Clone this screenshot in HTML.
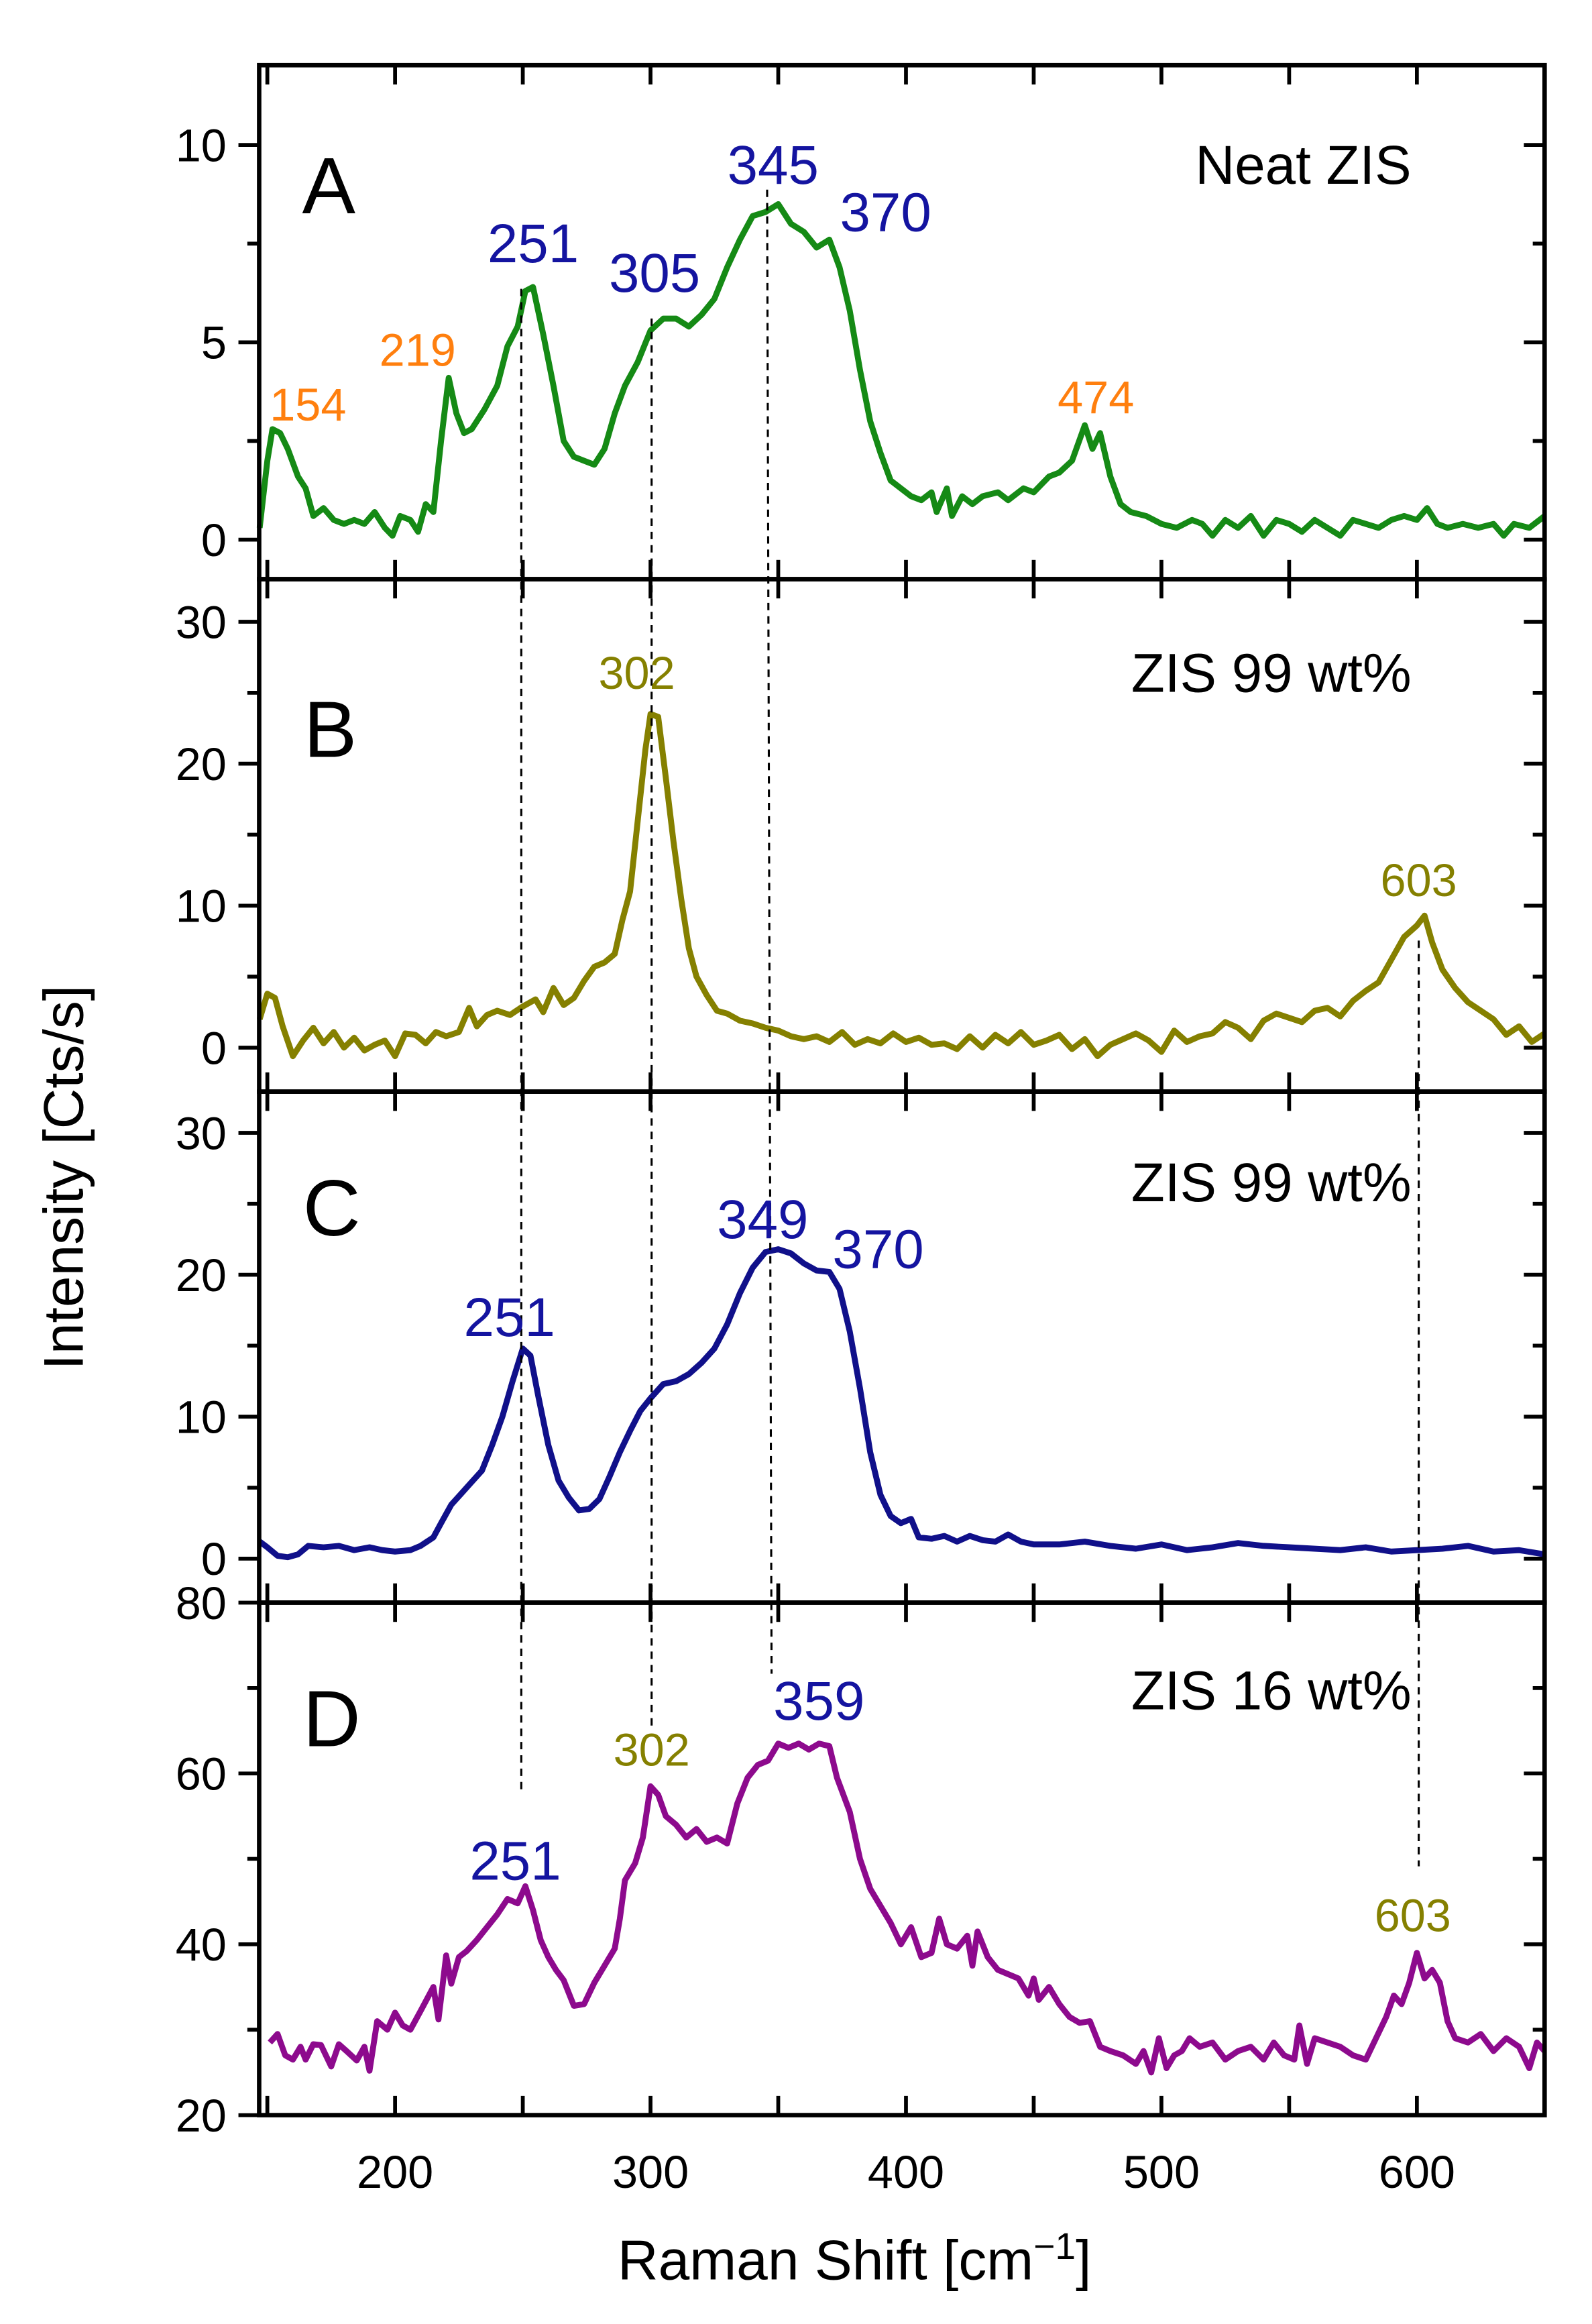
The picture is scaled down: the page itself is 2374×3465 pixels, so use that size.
<!DOCTYPE html>
<html><head><meta charset="utf-8"><style>html,body{margin:0;padding:0;background:#fff}svg{display:block}text{font-family:"Liberation Sans",sans-serif}</style></head>
<body>
<svg id="chart" width="2374" height="3465" viewBox="0 0 1075 1569" xmlns="http://www.w3.org/2000/svg"></svg>
<script>
const xTicks=[200,300,400,500,600];
const xsA=[147,150,152,155,158,162,165,168,172,176,180,184,188,192,196,199,202,206,209,212,215,218,221,224,227,230,235,240,244,248,251,254,258,262,266,270,274,278,282,286,290,295,300,305,310,315,320,325,330,335,340,345,350,355,360,365,370,374,378,382,386,390,394,398,402,406,410,412,416,418,422,426,430,436,440,446,450,456,460,465,470,473,476,480,484,488,494,500,506,512,516,520,525,530,535,540,545,550,555,560,565,570,575,580,585,590,595,600,604,608,612,618,624,630,634,638,644,650];
const ysA=[0.3,2.0,2.8,2.7,2.3,1.6,1.3,0.6,0.8,0.5,0.4,0.5,0.4,0.7,0.3,0.1,0.6,0.5,0.2,0.9,0.7,2.5,4.1,3.2,2.7,2.8,3.3,3.9,4.9,5.4,6.3,6.4,5.2,3.9,2.5,2.1,2.0,1.9,2.3,3.2,3.9,4.5,5.3,5.6,5.6,5.4,5.7,6.1,6.9,7.6,8.2,8.3,8.5,8.0,7.8,7.4,7.6,6.9,5.8,4.3,3.0,2.2,1.5,1.3,1.1,1.0,1.2,0.7,1.3,0.6,1.1,0.9,1.1,1.2,1.0,1.3,1.2,1.6,1.7,2.0,2.9,2.3,2.7,1.6,0.9,0.7,0.6,0.4,0.3,0.5,0.4,0.1,0.5,0.3,0.6,0.1,0.5,0.4,0.2,0.5,0.3,0.1,0.5,0.4,0.3,0.5,0.6,0.5,0.8,0.4,0.3,0.4,0.3,0.4,0.1,0.4,0.3,0.6];
const xsB=[147,150,153,156,160,164,168,172,176,180,184,188,192,196,200,204,208,212,216,220,225,229,232,236,240,245,250,255,258,262,266,270,274,278,282,286,289,292,295,298,300,303,306,309,312,315,318,322,326,330,335,340,345,350,355,360,365,370,375,380,385,390,395,400,405,410,415,420,425,430,435,440,445,450,455,460,465,470,475,480,485,490,495,500,505,510,515,520,525,530,535,540,545,550,555,560,565,570,575,580,585,590,595,600,603,606,610,615,620,625,630,635,640,645,650];
const ysB=[2,3.8,3.5,1.5,-0.6,0.5,1.4,0.3,1.1,0.0,0.7,-0.2,0.2,0.5,-0.6,1.0,0.9,0.3,1.1,0.8,1.1,2.8,1.5,2.3,2.6,2.3,2.9,3.4,2.5,4.2,3.0,3.5,4.7,5.7,6.0,6.6,9.0,11,16,21,23.5,23.3,19,14.5,10.5,7,5,3.7,2.6,2.4,1.9,1.7,1.4,1.2,0.8,0.6,0.8,0.4,1.1,0.2,0.6,0.3,1.0,0.4,0.7,0.2,0.3,-0.1,0.8,0.0,0.9,0.3,1.1,0.2,0.5,0.9,-0.1,0.6,-0.6,0.2,0.6,1.0,0.5,-0.3,1.2,0.4,0.8,1.0,1.8,1.4,0.6,1.9,2.4,2.1,1.8,2.6,2.8,2.2,3.3,4.0,4.6,6.2,7.8,8.6,9.3,7.4,5.5,4.2,3.2,2.6,2.0,0.9,1.5,0.4,1.0];
const xsC=[147,150,154,158,162,166,172,178,184,190,195,200,206,210,215,218,222,226,230,234,238,242,246,250,253,256,260,264,268,272,276,280,284,288,292,296,300,305,310,315,320,325,330,335,340,345,350,355,360,365,370,374,378,382,386,390,394,398,402,405,410,415,420,425,430,435,440,445,450,460,470,480,490,500,510,520,530,540,550,560,570,580,590,600,610,620,630,640,650];
const ysC=[1.2,0.8,0.2,0.1,0.3,0.9,0.8,0.9,0.6,0.8,0.6,0.5,0.6,0.9,1.5,2.5,3.8,4.6,5.4,6.2,8.0,10.0,12.5,14.8,14.3,11.5,8.0,5.5,4.3,3.4,3.5,4.2,5.8,7.5,9.0,10.4,11.3,12.3,12.5,13.0,13.8,14.8,16.5,18.7,20.5,21.6,21.8,21.5,20.8,20.3,20.2,19.0,16.0,12.0,7.5,4.5,3.0,2.5,2.8,1.5,1.4,1.6,1.2,1.6,1.3,1.2,1.7,1.2,1.0,1.0,1.2,0.9,0.7,1.0,0.6,0.8,1.1,0.9,0.8,0.7,0.6,0.8,0.5,0.6,0.7,0.9,0.5,0.6,0.3];
const xsD=[151,154,157,160,163,165,168,171,175,178,181,185,188,190,193,197,200,203,206,210,215,217,220,222,225,228,232,236,240,244,248,251,254,257,260,263,266,270,274,278,282,286,288,290,294,297,300,303,306,310,314,318,322,326,330,334,338,342,346,350,354,358,362,366,370,373,378,382,386,390,394,398,402,406,410,413,416,420,424,426,428,432,436,440,444,448,450,452,456,460,464,468,472,476,480,485,490,493,496,499,502,505,508,511,515,520,525,530,535,540,544,548,552,554,557,560,565,570,575,580,584,588,591,594,597,600,603,606,609,612,615,620,625,630,635,640,644,647,650];
const ysD=[28.5,29.5,27,26.5,28,26.5,28.3,28.2,25.7,28.3,27.5,26.4,28,25.2,31,30,32,30.5,30,32.2,35,31.2,38.7,35.4,38.5,39.2,40.5,42,43.5,45.3,44.8,46.8,44.0,40.5,38.5,37.0,35.8,32.8,33.0,35.5,37.5,39.5,43.0,47.5,49.5,52.5,58.5,57.5,55.0,54.0,52.5,53.5,52.0,52.5,51.8,56.5,59.5,61.0,61.5,63.5,63.0,63.5,62.8,63.5,63.2,59.5,55.5,50.0,46.5,44.5,42.5,40.0,42.0,38.5,39.0,43.0,40.0,39.5,41.0,37.5,41.5,38.5,37.0,36.5,36.0,34.0,36.0,33.5,35.0,33.0,31.5,30.8,31.0,28.0,27.5,27.0,26.0,27.5,25.0,29.0,25.5,27.0,27.5,29.0,28.0,28.5,26.5,27.5,28.0,26.5,28.5,27.0,26.5,30.5,26.0,29.0,28.5,28.0,27.0,26.5,29.0,31.5,34.0,33.0,35.5,39.0,36.0,37.0,35.5,31.0,29.0,28.5,29.5,27.5,29.0,28.0,25.5,28.5,27.5];

const NS='http://www.w3.org/2000/svg';
const svg=document.getElementById('chart');
const L=175,R=1043,X0=146.8,X1=650;
function sx(v){return L+(v-X0)*(R-L)/(X1-X0);}
function mk(tag,attrs,parent){const e=document.createElementNS(NS,tag);for(const k in attrs)e.setAttribute(k,attrs[k]);(parent||svg).appendChild(e);return e;}
const panels=[
 {id:'a',top:44,bot:391,y0:-1.0,y1:12.02,major:[0,5,10],minor:2.5,xs:xsA,ys:ysA,color:'#158a15'},
 {id:'b',top:391,bot:737,y0:-3.1,y1:33.0,major:[0,10,20,30],minor:5,xs:xsB,ys:ysB,color:'#858000'},
 {id:'c',top:737,bot:1082,y0:-3.1,y1:32.9,major:[0,10,20,30],minor:5,xs:xsC,ys:ysC,color:'#10108a'},
 {id:'d',top:1082,bot:1428,y0:20,y1:80,major:[20,40,60,80],minor:10,xs:xsD,ys:ysD,color:'#8d0a8d'}
];
panels.forEach(p=>{
 const g=mk('g',{});
 
 
 const sy=v=>p.bot-(v-p.y0)*(p.bot-p.top)/(p.y1-p.y0);
 let d='';p.xs.forEach((x,i)=>{d+=(i?'L':'M')+sx(x).toFixed(2)+' '+sy(p.ys[i]).toFixed(2);});
 const line=mk('path',{d:d,fill:'none',stroke:p.color,'stroke-width':4,'stroke-linejoin':'round'},g);
 
 
 for(let v=p.major[0];v<=p.y1+0.001;v+=p.minor){
  const isMaj=p.major.some(m=>Math.abs(m-v)<1e-6);const y=sy(v);
  if(y<p.top-0.5)continue;
  const len=isMaj?14:8;
  mk('line',{x1:L-len,x2:L,y1:y,y2:y,stroke:'#000','stroke-width':2.6},g);
  mk('line',{x1:R-len,x2:R,y1:y,y2:y,stroke:'#000','stroke-width':2.6},g);
  if(isMaj){const t=mk('text',{x:L-22,y:y+11,'text-anchor':'end','font-size':31},g);t.textContent=v;
   
   }
 }
 for(let v=150;v<=650;v+=50){const x=sx(v);
  mk('line',{x1:x,x2:x,y1:p.bot,y2:p.bot-13,stroke:'#000','stroke-width':2.6},g);
  mk('line',{x1:x,x2:x,y1:p.top,y2:p.top+13,stroke:'#000','stroke-width':2.6},g);}
 mk('rect',{x:L,y:p.top,width:R-L,height:p.bot-p.top,fill:'none',stroke:'#000','stroke-width':3},g);
});
xTicks.forEach(v=>{const t=mk('text',{x:sx(v),y:1477,'text-anchor':'middle','font-size':31});t.textContent=v;
 
 });
[[352,195,352,1210],[440,215,440,1165],[518,128,521,1130],[958,635,958,1260]].forEach(a=>{
 const l=mk('line',{x1:a[0],y1:a[1],x2:a[2],y2:a[3],stroke:'#000','stroke-width':1.4,'stroke-dasharray':'5,4'});
 
 });
const labels=[
 ['A',222,144,54,'#000','middle','panel-letter'],['B',223,511,54,'#000','middle','panel-letter'],['C',224,834,54,'#000','middle','panel-letter'],['D',224,1179,54,'#000','middle','panel-letter'],
 ['Neat ZIS',953,124,37,'#000','end','sample-name'],['ZIS 99 wt%',953,467,37,'#000','end','sample-name'],['ZIS 99 wt%',953,811,37,'#000','end','sample-name'],['ZIS 16 wt%',953,1154,37,'#000','end','sample-name'],
 ['154',208,284,31,'#ff7f0e','middle','peak-label'],['219',282,247,31,'#ff7f0e','middle','peak-label'],['251',360,177,37,'#1414a0','middle','peak-label'],['305',442,197,37,'#1414a0','middle','peak-label'],['345',522,124,37,'#1414a0','middle','peak-label'],['370',598,156,37,'#1414a0','middle','peak-label'],['474',740,279,31,'#ff7f0e','middle','peak-label'],
 ['302',430,465,31,'#858000','middle','peak-label'],['603',958,605,31,'#858000','middle','peak-label'],
 ['251',344,902,37,'#1414a0','middle','peak-label'],['349',515,836,37,'#1414a0','middle','peak-label'],['370',593,856,37,'#1414a0','middle','peak-label'],
 ['302',440,1192,31,'#858000','middle','peak-label'],['359',553,1161,37,'#1414a0','middle','peak-label'],['251',348,1269,37,'#1414a0','middle','peak-label'],['603',954,1304,31,'#858000','middle','peak-label']
];
labels.forEach(a=>{const t=mk('text',{x:a[1],y:a[2],'font-size':a[3],fill:a[4],'text-anchor':a[5]});t.textContent=a[0];
 
 });
const yt=mk('text',{x:0,y:0,'font-size':38,'text-anchor':'middle',transform:'translate(56,795) rotate(-90)'});yt.textContent='Intensity [Cts/s]';


const xt=mk('text',{x:577,y:1539,'font-size':38,'text-anchor':'middle'});
xt.innerHTML='Raman Shift [cm<tspan dy="-14" font-size="25">−1</tspan><tspan dy="14">]</tspan>';


</script>
</body></html>
